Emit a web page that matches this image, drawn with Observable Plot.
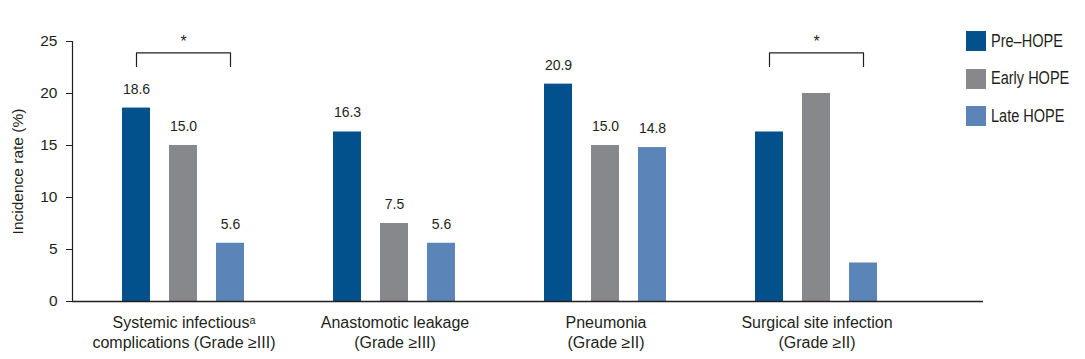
<!DOCTYPE html>
<html>
<head>
<meta charset="utf-8">
<script src="https://cdn.jsdelivr.net/npm/d3@7"></script>
<script src="https://cdn.jsdelivr.net/npm/@observablehq/plot@0.6"></script>
<style>
  body { margin: 0; background: #fff; }
  #wrap { position: relative; width: 1085px; height: 359px; }
  #legend { position: absolute; left: 966px; top: 31px; font-family: "Liberation Sans", Arial, sans-serif; font-size: 17.5px; color: #231f20; }
  .item { display: flex; align-items: center; height: 20px; margin-bottom: 17.5px; white-space: nowrap; }
  .sw { width: 20px; height: 20px; margin-right: 5px; flex: none; }
  .lt { display: inline-block; transform: scaleX(0.83); transform-origin: left center; }
</style>
</head>
<body>
<div id="wrap"><div id="legend"></div></div>
<script>
// ---- data ----
const groupKeys = ["Systemic", "Anastomotic", "Pneumonia", "Surgical"];
const groupLabels = [
  "Systemic infectious\u1D43\ncomplications (Grade \u2265III)",
  "Anastomotic leakage\n(Grade \u2265III)",
  "Pneumonia\n(Grade \u2265II)",
  "Surgical site infection\n(Grade \u2265II)"
];
const series = ["Pre\u2013HOPE", "Early HOPE", "Late HOPE"];
const seriesColors = ["#02508c", "#87888c", "#5b84b8"];
const preHope = [18.6, 16.3, 20.9, 16.3];
const earlyHope = [15.0, 7.5, 15.0, 20.0];
const lateHope = [5.6, 5.6, 14.8, 3.7];
const showValues = [true, true, true, false];
const yTicks = [0, 5, 10, 15, 20, 25];
const significantGroups = ["Systemic", "Surgical"];
const bracketTop = 23.9;
const bracketBottom = 22.6;
const starLevel = 25;
const yTitle = "Incidence rate (%)";

// ---- build table ----
const valuesBySeries = [preHope, earlyHope, lateHope];
const rows = [];
groupKeys.forEach((g, gi) => {
  series.forEach((s, si) => {
    rows.push({group: g, series: s, value: valuesBySeries[si][gi], show: showValues[gi]});
  });
});
const bracketRows = [];
significantGroups.forEach(g => {
  bracketRows.push({group: g, series: series[0], y: bracketBottom});
  bracketRows.push({group: g, series: series[0], y: bracketTop});
  bracketRows.push({group: g, series: series[2], y: bracketTop});
  bracketRows.push({group: g, series: series[2], y: bracketBottom});
});
const stars = significantGroups.map(g => ({group: g, series: series[1], y: starLevel}));
const labelOf = new Map(groupKeys.map((g, i) => [g, groupLabels[i]]));
const firstGroup = [groupKeys[0]];
const middleGroups = groupKeys.slice(1, -1);
const lastGroup = [groupKeys[groupKeys.length - 1]];

const ink = "#231f20";

const chart = Plot.plot({
  width: 1085,
  height: 359,
  marginLeft: 72,
  marginRight: 100,
  marginTop: 41,
  marginBottom: 58,
  style: {fontFamily: "'Liberation Sans', Arial, sans-serif", color: ink, background: "#fff"},
  fx: {domain: groupKeys, paddingInner: 0, paddingOuter: 0.1584, align: 0.09},
  x: {domain: series, paddingInner: 0.4, paddingOuter: 0.903, axis: null},
  y: {domain: [0, 25]},
  color: {domain: series, range: seriesColors},
  marks: [
    Plot.barY(rows, {fx: "group", x: "series", y: "value", fill: "series"}),
    Plot.text(rows.filter(d => d.show), {fx: "group", x: "series", y: "value", text: d => d.value.toFixed(1), dy: -19, fontSize: 14, fill: ink}),
    Plot.line(bracketRows, {fx: "group", x: "series", y: "y", z: "group", stroke: ink, strokeWidth: 1.2}),
    Plot.text(stars, {fx: "group", x: "series", y: "y", text: () => "*", fontSize: 16, fill: ink}),
    // baseline across the whole plot
    Plot.ruleY(firstGroup, {fx: d => d, y: () => 0, stroke: ink, strokeWidth: 1.5, insetLeft: -6}),
    Plot.ruleY(middleGroups, {fx: d => d, y: () => 0, stroke: ink, strokeWidth: 1.5}),
    Plot.ruleY(lastGroup, {fx: d => d, y: () => 0, stroke: ink, strokeWidth: 1.5, insetRight: -61}),
    // y axis line + ticks in first facet
    Plot.frame({anchor: "left", facetAnchor: "left", dx: -6, stroke: ink, strokeWidth: 1.2}),
    Plot.axisY({ticks: yTicks, tickSize: 6, tickPadding: 9, fontSize: 15.5, label: null, stroke: ink, dx: -6}),
    Plot.text(firstGroup, {fx: d => d, text: () => yTitle, frameAnchor: "left", textAnchor: "middle", rotate: -90, dx: -60, fontSize: 15.5, fill: ink}),
    Plot.axisFx({anchor: "bottom", tickSize: 0, tickPadding: 12, fontSize: 16, lineHeight: 1.25, label: null, tickFormat: g => labelOf.get(g)})
  ]
});
document.getElementById("wrap").prepend(chart);

const legend = document.getElementById("legend");
series.forEach((s, i) => {
  const item = document.createElement("div");
  item.className = "item";
  const sw = document.createElement("div");
  sw.className = "sw";
  sw.style.background = seriesColors[i];
  const t = document.createElement("span");
  t.className = "lt";
  t.textContent = s;
  item.appendChild(sw);
  item.appendChild(t);
  legend.appendChild(item);
});
</script>
</body>
</html>
